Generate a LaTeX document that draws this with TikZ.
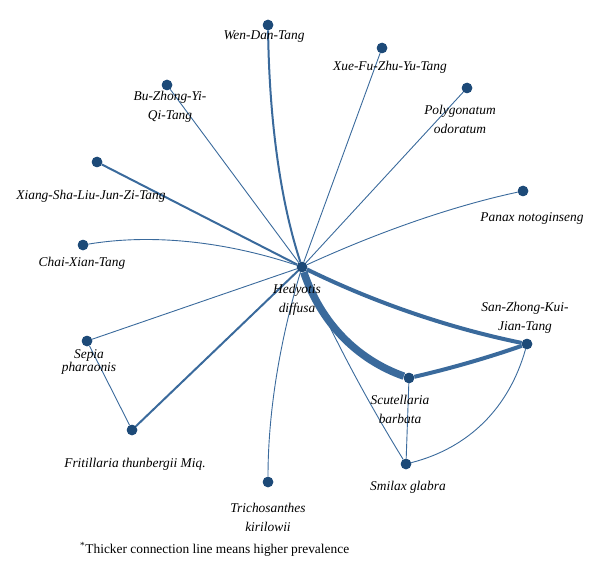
\documentclass[tikz,border=0pt]{standalone}
\usepackage{fontspec}
\setmainfont{Liberation Serif}
\definecolor{nodeblue}{RGB}{29,74,120}
\definecolor{edgeblue}{RGB}{58,106,156}
\begin{document}
\begin{tikzpicture}[x=1pt,y=-1pt,
  dot/.style={circle,fill=nodeblue,inner sep=0pt,minimum size=10.5pt},
  lbl/.style={font=\fontsize{13.4}{19}\selectfont\itshape,align=center,inner sep=0pt,text=black},
  thinE/.style={draw=edgeblue,line width=0.9pt},
  medE/.style={draw=edgeblue,line width=2pt},
  thickE/.style={draw=edgeblue,line width=4pt},
  hugeE/.style={draw=edgeblue,line width=7.5pt}]
\useasboundingbox (0,0) rectangle (600,583);
% nodes
\node[dot] (hed) at (302,267) {};
\node[dot] (wen) at (268,25) {};
\node[dot] (xue) at (382,48) {};
\node[dot] (bu)  at (167,85) {};
\node[dot] (pol) at (467,88) {};
\node[dot] (xia) at (97,162) {};
\node[dot] (pan) at (523,191) {};
\node[dot] (cha) at (83,245) {};
\node[dot] (san) at (527,344) {};
\node[dot] (sep) at (87,341) {};
\node[dot] (scu) at (409,378) {};
\node[dot] (fri) at (132,430) {};
\node[dot] (smi) at (406,464) {};
\node[dot] (tri) at (268,482) {};
% edges
\path[thinE] (hed) -- (xue);
\path[thinE] (hed) -- (bu);
\path[thinE] (hed) -- (pol);
\path[thinE] (hed) .. controls (380.7,231) and (454.3,205.7) .. (pan);
\path[thinE] (hed) .. controls (224,241) and (151,233.7) .. (cha);
\path[thinE] (hed) -- (sep);
\path[thinE] (hed) .. controls (279.3,342.3) and (268,414) .. (tri);
\path[thinE] (hed) .. controls (330.7,332.3) and (365.3,398) .. (smi);
\path[thinE] (scu) -- (smi);
\path[thinE] (san) .. controls (509,408) and (468.7,448) .. (smi);
\path[thinE] (sep) -- (fri);
\path[medE] (hed) .. controls (280.7,202.3) and (269.3,121.7) .. (wen);
\path[medE] (hed) -- (xia);
\path[medE] (hed) -- (fri);
\path[thickE] (hed) .. controls (374,302.3) and (448.7,328) .. (san);
\path[thickE] (scu) .. controls (449.7,368.7) and (489,357.3) .. (san);
\path[hugeE] (hed) .. controls (320.7,322.3) and (356.3,359.3) .. (scu);
% redraw dots on top
\foreach \n in {hed,wen,xue,bu,pol,xia,pan,cha,san,sep,scu,fri,smi,tri}
  \fill[nodeblue] (\n) circle (5.25pt);
% labels
\node[lbl] (lwen) at (264,37) {Wen-Dan-Tang};
\node[lbl] (lxue) at (390,67) {Xue-Fu-Zhu-Yu-Tang};
\node[lbl] (lbu)  at (170,107) {Bu-Zhong-Yi-\\Qi-Tang};
\node[lbl] (lpol) at (460,119) {Polygonatum\\odoratum};
\node[lbl] (lpan) at (532,218) {Panax notoginseng};
\node[lbl] (lxia) at (91,196) {Xiang-Sha-Liu-Jun-Zi-Tang};
\node[lbl] (lcha) at (82,263) {Chai-Xian-Tang};
\node[lbl] (lhed) at (297,300) {Hedyotis\\diffusa};
\node[lbl] (lsan) at (525,318) {San-Zhong-Kui-\\Jian-Tang};
\node[lbl,font=\fontsize{13.4}{13}\selectfont\itshape] (lsep) at (89,362) {Sepia\\pharaonis};
\node[lbl] (lscu) at (400,409) {Scutellaria\\barbata};
\node[lbl] (lfri) at (135,464) {Fritillaria thunbergii Miq.};
\node[lbl] (lsmi) at (408,487) {Smilax glabra};
\node[lbl] (ltri) at (268,517) {Trichosanthes\\kirilowii};
\node[font=\fontsize{13.4}{15}\selectfont,inner sep=0pt,anchor=west,text=black] (note) at (80,549) {\textsuperscript{*}Thicker connection line means higher prevalence};
\end{tikzpicture}
\end{document}
